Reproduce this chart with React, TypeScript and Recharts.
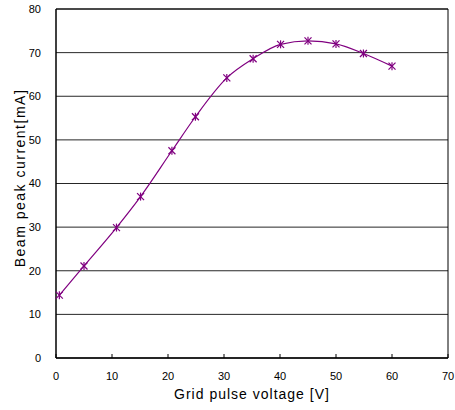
import { LineChart, Line, XAxis, YAxis, CartesianGrid, ReferenceLine } from 'recharts'

// Grid pulse voltage [V] vs beam peak current [mA]
const voltage = [0.6, 5, 10.8, 15.1, 20.7, 24.9, 30.5, 35.2, 40.1, 45, 50, 54.9, 60]
const current = [14.4, 21.1, 29.9, 37.0, 47.5, 55.3, 64.2, 68.6, 71.9, 72.7, 72.0, 69.8, 66.9]
const xTicks = [0, 10, 20, 30, 40, 50, 60, 70]
const yTicks = [0, 10, 20, 30, 40, 50, 60, 70, 80]

const data = voltage.map((v, i) => ({ v, c: current[i] }))

const font = '"Liberation Sans", Arial, sans-serif'
const purple = '#800080'

const Asterisk = (props: any) => {
  const { cx, cy } = props
  if (cx == null || cy == null) return null
  const r = 3.5
  return (
    <g stroke={purple} strokeWidth={1.2}>
      <line x1={cx - r} y1={cy - r} x2={cx + r} y2={cy + r} />
      <line x1={cx - r} y1={cy + r} x2={cx + r} y2={cy - r} />
      <line x1={cx} y1={cy - r - 0.5} x2={cx} y2={cy + r + 0.5} />
    </g>
  )
}

const XLabel = (props: any) => {
  const vb = props.viewBox
  const x = vb.x + vb.width / 2
  return (
    <text x={x} y={399} textAnchor="middle" fill="#000" fontSize={14} fontFamily={font} letterSpacing={1}>
      Grid pulse voltage [V]
    </text>
  )
}

const YLabel = () => (
  <text
    x={20}
    y={178}
    transform="rotate(-90, 20, 178)"
    textAnchor="middle"
    dominantBaseline="central"
    fill="#000"
    fontSize={14}
    fontFamily={font}
    letterSpacing={1.5}
  >
    Beam peak current[mA]
  </text>
)

export default function App() {
  return (
    <div style={{ position: 'absolute', left: 0, top: 0, background: '#fff' }}>
      <LineChart width={455} height={410} data={data} margin={{ top: 9, right: 7, bottom: 0, left: 0 }}>
        <CartesianGrid vertical={false} stroke="#000" strokeOpacity={0.85} />
        <XAxis
          dataKey="v"
          type="number"
          domain={[0, 70]}
          ticks={xTicks}
          height={52}
          axisLine={{ stroke: '#000', strokeWidth: 1.5 }}
          tickLine={{ stroke: '#000' }}
          tickSize={-4}
          tickMargin={18}
          tick={{ fill: '#000', fontSize: 11, fontFamily: font }}
          label={<XLabel />}
        />
        <YAxis
          type="number"
          domain={[0, 80]}
          ticks={yTicks}
          width={56}
          axisLine={{ stroke: '#000', strokeWidth: 1.5 }}
          tickLine={false}
          tickMargin={9}
          tick={{ fill: '#000', fontSize: 11, fontFamily: font }}
          label={<YLabel />}
        />
        <ReferenceLine y={80} stroke="#000" />
        <ReferenceLine x={70} stroke="#000" />
        <Line
          type="monotone"
          dataKey="c"
          stroke={purple}
          strokeWidth={1.2}
          dot={<Asterisk />}
          activeDot={false}
          isAnimationActive={false}
        />
      </LineChart>
    </div>
  )
}
